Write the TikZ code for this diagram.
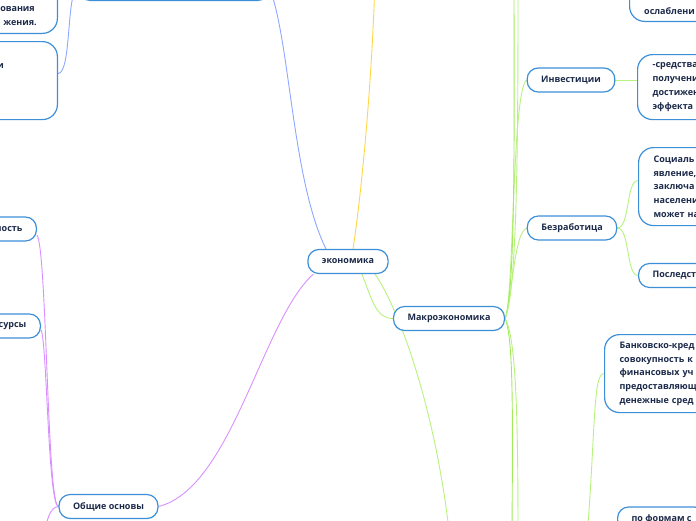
\documentclass[tikz,border=0pt]{standalone}
\usepackage{fontspec}
\setmainfont{Open Sans}
\usetikzlibrary{calc}
\definecolor{bord}{HTML}{3D8FD8}
\definecolor{ink}{HTML}{1C2A4A}
\definecolor{gline}{HTML}{B8F27E}
\definecolor{gline2}{HTML}{A2EA5C}
\definecolor{bline}{HTML}{8EA7FF}
\definecolor{yline}{HTML}{FFD54A}
\definecolor{pline}{HTML}{D98FFF}
\pgfdeclarelayer{bg}
\pgfsetlayers{bg,main}
\tikzset{
 pill/.style={draw=bord, line width=1.2pt, fill=white, rounded corners=11pt, minimum height=24pt, inner xsep=14pt, inner ysep=0pt, text=ink, font=\bfseries\fontsize{9}{11}\selectfont},
 bigbox/.style={draw=bord, line width=1.2pt, fill=white, rounded corners=15pt, inner xsep=15pt, inner ysep=0pt, text=ink, font=\bfseries\fontsize{9}{13.7}\selectfont, align=left},
 txt/.style={text=ink, font=\bfseries\fontsize{9}{11}\selectfont, inner sep=0pt},
 conn/.style={line width=0.9pt},
}
\begin{document}
\begin{tikzpicture}[x=1pt,y=-1pt]
\useasboundingbox (0,0) rectangle (696,520);
\clip (0,0) rectangle (696,520);
% nodes
\node[pill] (econ) at (348,261.5) {экономика};
\node[pill] (macro) at (449,318.5) {Макроэкономика};
\node[pill] (inv) at (571,80) {Инвестиции};
\node[pill] (bez) at (572,228) {Безработица};
\node[pill] (obsh) at (108.5,506.5) {Общие основы};
\node[pill, anchor=east] (nost) at (37,229) {ность};
\node[pill, anchor=east] (surs) at (41,326) {сурсы};
\node[pill, minimum width=190pt, anchor=south] (topn) at (174,1) {};
\node[pill, anchor=west] (posl) at (638,275.5) {Последст};
\node[pill, anchor=west] (pofor) at (617,519) {по формам с};
\node[bigbox, anchor=north west, text width=110pt, minimum height=65pt] (sred) at (637,54) {-средства\\получени\\достижен\\эффекта};
\node[bigbox, anchor=south west, minimum width=140pt, minimum height=90pt] (oslab) at (629,22) {};
\node[txt, anchor=west] (oslabt) at (644,11) {ослаблени};
\node[bigbox, anchor=north west, text width=110pt, minimum height=78pt] (soc) at (638,147) {Социаль\\явление,\\заключа\\населени\\может на};
\node[bigbox, anchor=north west, text width=110pt, minimum height=78pt] (bank) at (604,334) {Банковско-кред\\совокупность к\\финансовых уч\\предоставляющ\\денежные сред};
\node[bigbox, minimum width=200pt, minimum height=80pt, anchor=south east] (lb1) at (58,34) {};
\node[txt, anchor=east] (lb1a) at (35,9) {ования};
\node[txt, anchor=east] (lb1b) at (37,23) {жения.};
\node[bigbox, minimum width=200pt, minimum height=78pt, anchor=north east] (lb2) at (58,41) {};
\node[txt, anchor=east] (lb2a) at (4,66) {и};
% free ends
\coordinate (yend) at (375,-20);
\coordinate (pdown) at (44,540);
\coordinate (gdown1) at (452,560);
\coordinate (gup1) at (514,-30);
\coordinate (gup2) at (518,-30);
\coordinate (gdn2) at (512,560);
\coordinate (gdn3) at (518,560);
\coordinate (gbk) at (585,560);
\begin{pgfonlayer}{bg}
\clip (0,0) rectangle (696,520);
% blue
\draw[conn, bline] (topn.east) .. controls (290,40) and (292,180) .. ([xshift=-22pt]econ.north);
\draw[conn, bline] (topn.west) .. controls (70,-12) and (68,-6) .. (lb1.east);
\draw[conn, bline] (topn.west) .. controls (66,-12) and (72,73) .. ([yshift=7pt]lb2.east);
% yellow
\draw[conn, yline] ([xshift=5pt]econ.north) .. controls (362,190) and (372,80) .. (yend);
% purple
\draw[conn, pline] (econ.200) .. controls (262,320) and (232,488) .. (obsh.east);
\draw[conn, pline] (obsh.west) .. controls (47,506) and (47,250) .. ([yshift=-6pt]nost.east);
\draw[conn, pline] (obsh.west) .. controls (48,506) and (47,340) .. ([yshift=-4pt]surs.east);
\draw[conn, pline] (obsh.west) .. controls (50,507) and (46,520) .. (pdown);
% green
\draw[conn, gline] ([xshift=14pt]econ.south) .. controls (372,300) and (376,318.5) .. (macro.west);
\draw[conn, gline] ([xshift=27pt]econ.south) .. controls (400,310) and (440,420) .. (gdown1);
\draw[conn, gline] (macro.east) .. controls (514,300) and (512,90) .. (inv.west);
\draw[conn, gline] (macro.east) .. controls (512,300) and (514,232) .. (bez.west);
\draw[conn, gline2] (macro.east) .. controls (516,290) and (514,120) .. (gup1);
\draw[conn, gline] (macro.east) .. controls (518,290) and (518,120) .. (gup2);
\draw[conn, gline2] (macro.east) .. controls (515,340) and (512,450) .. (gdn2);
\draw[conn, gline] (macro.east) .. controls (518,340) and (518,450) .. (gdn3);
\draw[conn, gline] (inv.east) -- (inv.east -| sred.west);
\draw[conn, gline] (bez.east) .. controls (630,228) and (626,180) .. ([yshift=6pt]soc.west);
\draw[conn, gline] (bez.east) .. controls (630,228) and (626,275.5) .. (posl.west);
\draw[conn, gline] (bank.west) .. controls (592,373) and (596,440) .. (gbk);
\end{pgfonlayer}
\end{tikzpicture}
\end{document}
